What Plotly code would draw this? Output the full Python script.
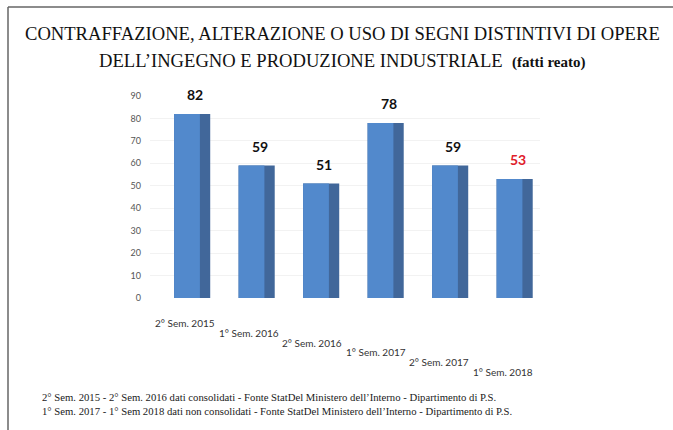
import plotly.graph_objects as go

# ---- data ----
categories = ["2° Sem. 2015", "1° Sem. 2016", "2° Sem. 2016",
              "1° Sem. 2017", "2° Sem. 2017", "1° Sem. 2018"]
values = [82, 59, 51, 78, 59, 53]
label_colors = ["#111111", "#111111", "#111111", "#111111", "#111111", "#e0202a"]
y_ticks = [0, 10, 20, 30, 40, 50, 60, 70, 80, 90]

title_line1 = "CONTRAFFAZIONE, ALTERAZIONE O USO DI SEGNI DISTINTIVI DI OPERE"
title_line2 = "DELL’INGEGNO E PRODUZIONE INDUSTRIALE  <b><span style='font-size:15px'>(fatti reato)</span></b>"
note1 = "2° Sem. 2015 - 2° Sem. 2016 dati consolidati - Fonte StatDel Ministero dell’Interno - Dipartimento di P.S."
note2 = "1° Sem. 2017 - 1° Sem 2018 dati non consolidati - Fonte StatDel Ministero dell’Interno - Dipartimento di P.S."

W, H = 673, 430
L, R, T, B = 150, 133, 96, 132
pw, ph = W - L - R, H - T - B

def px_x(px):
    return (px - L) / pw

def px_y(py):
    return (H - B - py) / ph

fig = go.Figure()
# side (dark) face
fig.add_trace(go.Bar(x=categories, y=values, width=0.56, offset=-0.2,
                     marker=dict(color="#41679a", line=dict(width=0)),
                     hoverinfo="skip", showlegend=False))
# front face
fig.add_trace(go.Bar(x=categories, y=values, width=0.4, offset=-0.2,
                     marker=dict(color="#5289cc", line=dict(width=0)),
                     showlegend=False))

annotations = []
for i, (c, v, col) in enumerate(zip(categories, values, label_colors)):
    annotations.append(dict(x=c, y=v, xref="x", yref="y", text=str(v),
                            showarrow=False, yanchor="bottom", xshift=8, yshift=9,
                            font=dict(family="Lato", size=14, color=col, weight="bold")))
    annotations.append(dict(x=c, y=0, xref="x", yref="paper", text=c,
                            showarrow=False, yanchor="top", xshift=-2 - i,
                            yshift=-17 - 9.8 * i,
                            font=dict(family="Lato", size=10, color="#333333")))

annotations += [
    dict(x=px_x(342), y=px_y(34), xref="paper", yref="paper", text=title_line1,
         showarrow=False, xanchor="center", yanchor="middle",
         font=dict(family="Liberation Serif", size=18.6, color="#111111")),
    dict(x=px_x(342), y=px_y(60), xref="paper", yref="paper", text=title_line2,
         showarrow=False, xanchor="center", yanchor="middle",
         font=dict(family="Liberation Serif", size=18.6, color="#111111")),
    dict(x=px_x(40), y=px_y(397), xref="paper", yref="paper", text=note1,
         showarrow=False, xanchor="left", yanchor="middle",
         font=dict(family="Liberation Serif", size=10.7, color="#1a1a1a")),
    dict(x=px_x(40), y=px_y(411), xref="paper", yref="paper", text=note2,
         showarrow=False, xanchor="left", yanchor="middle",
         font=dict(family="Liberation Serif", size=10.7, color="#1a1a1a")),
]

shapes = [
    dict(type="line", xref="paper", yref="paper", x0=px_x(8), x1=px_x(673),
         y0=px_y(7), y1=px_y(7), line=dict(color="#666666", width=1.5)),
    dict(type="line", xref="paper", yref="paper", x0=px_x(8), x1=px_x(8),
         y0=px_y(7), y1=px_y(430), line=dict(color="#666666", width=1.5)),
]

fig.update_layout(
    width=W, height=H,
    margin=dict(l=L, r=R, t=T, b=B, pad=0),
    paper_bgcolor="white", plot_bgcolor="white",
    barmode="overlay",
    xaxis=dict(range=[(L - 187) / 64.5, (W - R - 187) / 64.5],
               showticklabels=False, showgrid=False, zeroline=False, showline=False),
    yaxis=dict(range=[0, 90], tickvals=y_ticks, showgrid=True, gridcolor="#f2f2f2",
               zeroline=False, showline=False, ticks="", ticklabelstandoff=8,
               tickfont=dict(family="Lato", size=9, color="#555555")),
    annotations=annotations,
    shapes=shapes,
)

fig.write_html("out.html", config={"displayModeBar": False},
               post_script="document.body.style.margin='0';document.body.style.overflow='hidden';")
